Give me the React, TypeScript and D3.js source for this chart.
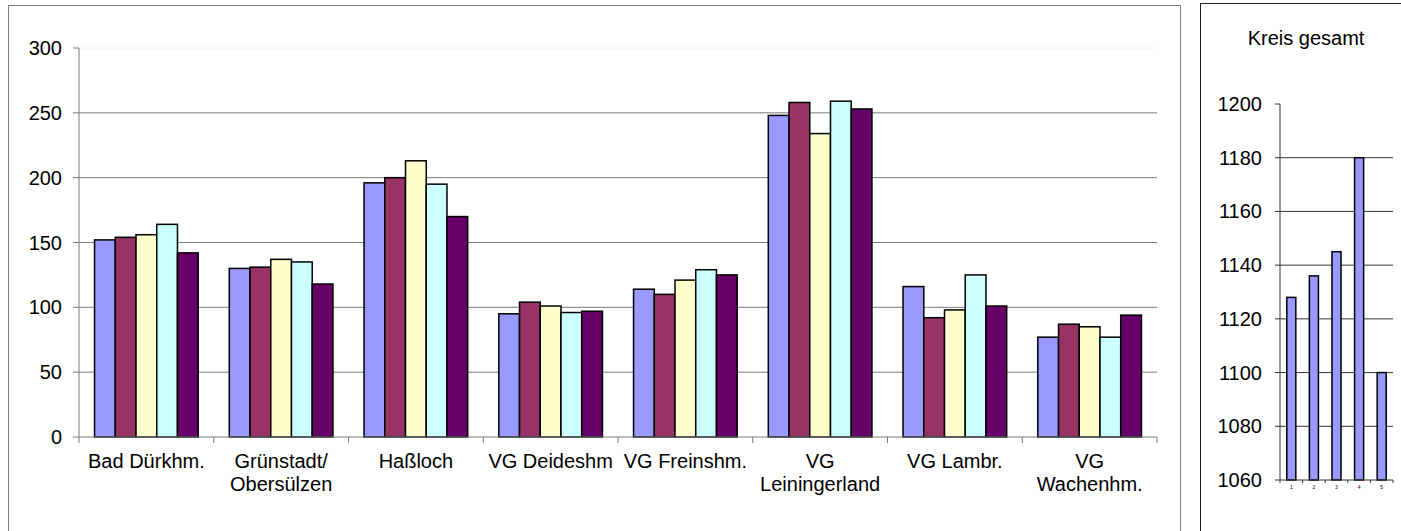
import * as d3 from 'd3';

// Kategorien (Gemeinden / Verbandsgemeinden)
const categories = [
  'Bad Dürkhm.',
  'Grünstadt/\nObersülzen',
  'Haßloch',
  'VG Deideshm',
  'VG Freinshm.',
  'VG\nLeiningerland',
  'VG Lambr.',
  'VG\nWachenhm.',
];
const series = ['s1', 's2', 's3', 's4', 's5'];
const colors = ['#9999FF', '#993366', '#FFFFCC', '#CCFFFF', '#660066'];

// Werte je Serie, gelesen aus dem Bild
const s1 = [152, 130, 196, 95, 114, 248, 116, 77];
const s2 = [154, 131, 200, 104, 110, 258, 92, 87];
const s3 = [156, 137, 213, 101, 121, 234, 98, 85];
const s4 = [164, 135, 195, 96, 129, 259, 125, 77];
const s5 = [142, 118, 170, 97, 125, 253, 101, 94];
const seriesValues = [s1, s2, s3, s4, s5];
const yTicks = [0, 50, 100, 150, 200, 250, 300];

// Kreis gesamt
const totalLabels = ['1', '2', '3', '4', '5'];
const totalValues = [1128, 1136, 1145, 1180, 1100];
const totalTicks = [1060, 1080, 1100, 1120, 1140, 1160, 1180, 1200];

const FONT = '"Liberation Sans", Arial, sans-serif';
const FS = 20;

const LeftChart = () => {
  const left = 79, right = 1157, top = 48, bottom = 437;
  const x = d3.scaleBand().domain(categories).range([left, right]);
  const y = d3.scaleLinear().domain([0, 300]).range([bottom, top]);
  const bw = x.bandwidth();
  const gw = (bw * 5) / 6.5;
  const inner = d3.scaleBand().domain(series).range([(bw - gw) / 2, (bw - gw) / 2 + gw]);

  return (
    <g>
      <rect x={8.5} y={5.5} width={1172} height={540} fill="#fff" stroke="#808080" strokeWidth={1} />
      {yTicks.map((t) => (
        <g key={t}>
          {t > 0 && (
            <line x1={left} x2={right} y1={y(t)} y2={y(t)}
              stroke={t === 300 ? '#f2f2f2' : '#7a7a7a'} strokeWidth={1} />
          )}
          <line x1={left - 6} x2={left} y1={y(t)} y2={y(t)} stroke="#7a7a7a" />
          <text x={62} y={y(t)} textAnchor="end" dominantBaseline="central"
            fontSize={FS} fontFamily={FONT} fill="#000">{t}</text>
        </g>
      ))}
      <line x1={left} x2={left} y1={top} y2={bottom} stroke="#7a7a7a" />
      {categories.map((c, ci) => (
        <g key={c}>
          {series.map((s, si) => (
            <rect key={s}
              x={(x(c) ?? 0) + (inner(s) ?? 0)}
              y={y(seriesValues[si][ci])}
              width={inner.bandwidth()}
              height={bottom - y(seriesValues[si][ci])}
              fill={colors[si]} stroke="#000" strokeWidth={1.5} />
          ))}
          {c.split('\n').map((line, li) => (
            <text key={li} x={(x(c) ?? 0) + bw / 2} y={468 + li * 23}
              textAnchor="middle" fontSize={FS} fontFamily={FONT} fill="#000">{line}</text>
          ))}
        </g>
      ))}
      <line x1={left} x2={right} y1={bottom} y2={bottom} stroke="#7a7a7a" />
      {[...categories.map((c) => x(c) ?? 0), right].map((p, i) => (
        <line key={i} x1={p} x2={p} y1={bottom} y2={bottom + 6} stroke="#7a7a7a" />
      ))}
    </g>
  );
};

const RightChart = () => {
  const left = 1280, right = 1393, top = 104, bottom = 480;
  const x = d3.scaleBand().domain(totalLabels).range([left, right]);
  const y = d3.scaleLinear().domain([1060, 1200]).range([bottom, top]);
  const bw = x.bandwidth();
  const barW = bw / 2.5;

  return (
    <g>
      <rect x={1200.5} y={3.5} width={260} height={540} fill="#fff" stroke="#222" strokeWidth={1} />
      <text x={1306} y={45} textAnchor="middle" fontSize={FS} fontFamily={FONT} fill="#000">Kreis gesamt</text>
      {totalTicks.map((t) => (
        <g key={t}>
          {t > 1060 && t < 1200 && (
            <line x1={left} x2={right} y1={y(t)} y2={y(t)} stroke="#333" strokeWidth={1} />
          )}
          <line x1={left - 5} x2={left} y1={y(t)} y2={y(t)} stroke="#333" />
          <text x={1262} y={y(t)} textAnchor="end" dominantBaseline="central"
            fontSize={FS} fontFamily={FONT} fill="#000">{t}</text>
        </g>
      ))}
      <line x1={left} x2={left} y1={top} y2={bottom} stroke="#333" />
      {totalLabels.map((l, i) => (
        <g key={l}>
          <rect x={(x(l) ?? 0) + (bw - barW) / 2} y={y(totalValues[i])}
            width={barW} height={bottom - y(totalValues[i])}
            fill="#9999FF" stroke="#000" strokeWidth={1.5} />
          <text x={(x(l) ?? 0) + bw / 2} y={489} textAnchor="middle"
            fontSize={5} fontFamily={FONT} fill="#000">{l}</text>
        </g>
      ))}
      <line x1={left} x2={right} y1={bottom} y2={bottom} stroke="#333" />
      {[...totalLabels.map((l) => x(l) ?? 0), right].map((p, i) => (
        <line key={i} x1={p} x2={p} y1={bottom} y2={bottom + 3} stroke="#333" />
      ))}
    </g>
  );
};

export default function App() {
  return (
    <svg width={1401} height={531} style={{ position: 'absolute', left: 0, top: 0, background: '#fff' }}>
      <LeftChart />
      <RightChart />
    </svg>
  );
}
